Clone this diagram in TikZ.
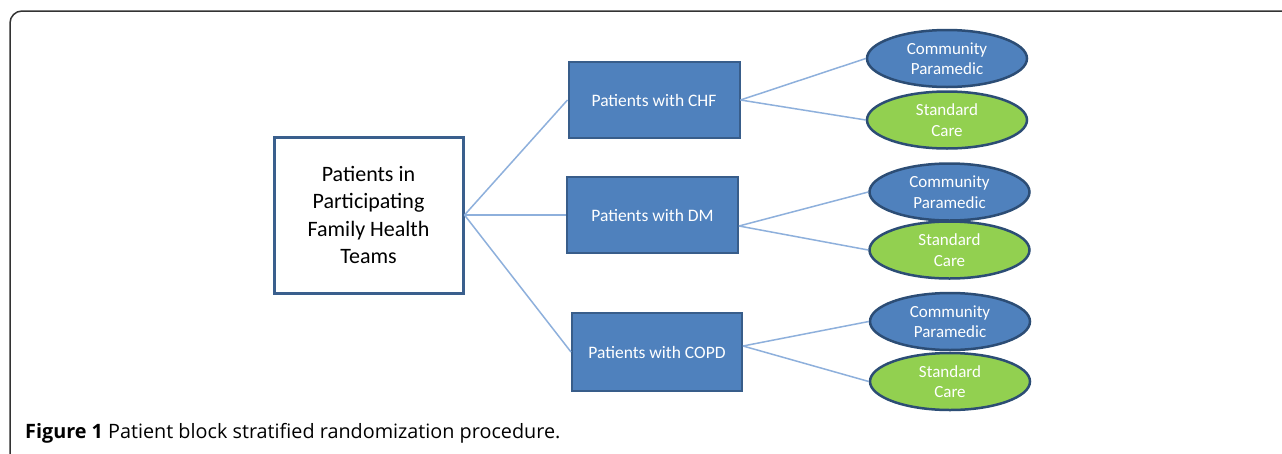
\documentclass[tikz,border=0pt]{standalone}
\usepackage{fontspec}
\setmainfont{Carlito}
\newfontfamily\capfont{Open Sans}
\usetikzlibrary{shapes.geometric}
\definecolor{boxfill}{HTML}{4F81BD}
\definecolor{boxline}{HTML}{385D8A}
\definecolor{elline}{HTML}{2C4D75}
\definecolor{scfill}{HTML}{92D050}
\definecolor{conn}{HTML}{8EB0DC}
\definecolor{mainline}{HTML}{3A5F8D}
\definecolor{framec}{HTML}{333333}
\tikzset{
  mainbox/.style={draw=mainline, line width=3pt, fill=white, minimum width=189pt, minimum height=156pt, inner sep=0pt, align=center, font=\fontsize{22}{27.5}\selectfont, text=black},
  groupbox/.style={draw=boxline, line width=2pt, fill=boxfill, minimum width=171pt, minimum height=76pt, inner sep=0pt, align=center, font=\fontsize{17.5}{21}\selectfont, text=white},
  armcp/.style={ellipse, draw=elline, line width=2.5pt, fill=boxfill, minimum width=160pt, minimum height=57pt, inner sep=0pt, align=center, font=\fontsize{17}{20.5}\selectfont, text=white},
  armsc/.style={armcp, fill=scfill},
  link/.style={draw=conn, line width=1.5pt}
}
\begin{document}
\begin{tikzpicture}[x=1pt,y=-1pt]
\useasboundingbox (0,0) rectangle (1282,453);
\fill[white] (0,0) rectangle (1282,453);
\draw[framec, line width=1.5pt, rounded corners=12pt] (10,460) -- (10,11) -- (1290,11);

\node[mainbox] (main) at (368.5,215) {Patients in\\Participating\\Family Health\\Teams};

\node[groupbox] (chf) at (654,100) {Patients with CHF};
\node[groupbox] (dm) at (652.5,215) {Patients with DM};
\node[groupbox, minimum width=170pt, minimum height=78pt] (copd) at (657,352) {Patients with COPD};

\node[armcp] (cp1) at (947,58.5) {Community\\Paramedic};
\node[armsc] (sc1) at (947,120) {Standard\\Care};
\node[armcp] (cp2) at (949.5,192) {Community\\Paramedic};
\node[armsc] (sc2) at (949.5,250) {Standard\\Care};
\node[armcp] (cp3) at (950,321.5) {Community\\Paramedic};
\node[armsc] (sc3) at (950,381.5) {Standard\\Care};

\draw[link] (main.east) -- (chf.west);
\draw[link] (main.east) -- (dm.west);
\draw[link] (main.east) -- (copd.west);
\draw[link] (chf.east) -- (cp1.west);
\draw[link] (chf.east) -- (sc1.west);
\draw[link] ([yshift=-11pt]dm.east) -- (cp2.west);
\draw[link] ([yshift=-11pt]dm.east) -- (sc2.west);
\draw[link] ([yshift=6pt]copd.east) -- (cp3.west);
\draw[link] ([yshift=6pt]copd.east) -- (sc3.west);

\node[anchor=base west, inner sep=0pt, font=\capfont\fontsize{19.8}{23}\selectfont, text=black] (cap) at (25,438) {\textbf{Figure 1} Patient block stratified randomization procedure.};
\end{tikzpicture}
\end{document}
